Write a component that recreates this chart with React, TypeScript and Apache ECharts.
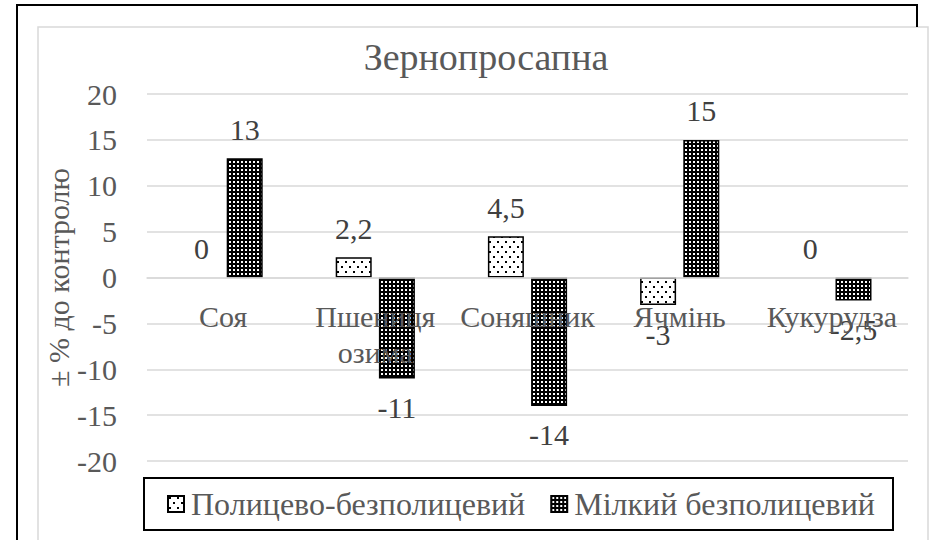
import React, { useEffect, useRef } from 'react';
import * as echarts from 'echarts';

const title = 'Зернопросапна';
const yAxisName = '± % до контролю';
const categories = ['Соя', 'Пшениця\nозима', 'Соняшник', 'Ячмінь', 'Кукурудза'];
const seriesNames = ['Полицево-безполицевий', 'Мілкий безполицевий'];
const ploughValues = [0, 2.2, 4.5, -3, 0];
const shallowValues = [13, -11, -14, 15, -2.5];
const yMin = -20;
const yMax = 20;
const yInterval = 5;

const FONT = "'Liberation Serif', 'Times New Roman', serif";
const TEXT = '#595959';
const GRID = '#d9d9d9';

const GRID_TOP = 94;
const GRID_BOTTOM_PX = 461;

function makePattern(w: number, h: number, bg: string, fg: string, rects: number[][]) {
  const c = document.createElement('canvas');
  c.width = w;
  c.height = h;
  const ctx = c.getContext('2d')!;
  ctx.fillStyle = bg;
  ctx.fillRect(0, 0, w, h);
  ctx.fillStyle = fg;
  rects.forEach(([x, y, rw, rh]) => ctx.fillRect(x, y, rw, rh));
  return { image: c, repeat: 'repeat' } as any;
}

function toItems(vals: number[]) {
  return vals.map((v) => ({
    value: v,
    label: { position: v < 0 ? 'bottom' : 'top' },
    ...(v === 0 ? { itemStyle: { borderWidth: 0 } } : {}),
  }));
}

export default function App() {
  const ref = useRef<HTMLDivElement>(null);
  useEffect(() => {
    document.body.style.margin = '0';
    const chart = echarts.init(ref.current!, undefined, { renderer: 'svg' });
    const lightPattern = makePattern(8, 10, '#ffffff', '#000000', [
      [1, 1, 2, 2],
      [5, 6, 2, 2],
    ]);
    const darkPattern = makePattern(4, 4, '#000000', '#ffffff', [[1, 1, 2, 2]]);
    const labelCfg = {
      show: true,
      distance: 14,
      color: '#404040',
      fontFamily: FONT,
      fontSize: 30,
      formatter: (p: any) => String(p.value).replace('.', ','),
    };
    // pixel offset that moves the category axis from the grid bottom up to the zero line
    const zeroFrac = (yMax - 0) / (yMax - yMin);
    const zeroY = GRID_TOP + (GRID_BOTTOM_PX - GRID_TOP) * zeroFrac;
    const xOffset = -(GRID_BOTTOM_PX - zeroY);
    chart.setOption({
      animation: false,
      backgroundColor: '#ffffff',
      title: {
        text: title,
        left: 481,
        top: 33,
        textAlign: 'center',
        textStyle: { color: TEXT, fontFamily: FONT, fontSize: 38, fontWeight: 'normal' },
      },
      graphic: [
        {
          type: 'polyline',
          shape: { points: [[17, 540], [17, 5], [917, 5], [917, 27]] },
          style: { stroke: '#000', lineWidth: 2, fill: 'none' },
          silent: true,
        },
        {
          type: 'rect',
          shape: { x: 38, y: 27, width: 890, height: 530 },
          style: { stroke: GRID, lineWidth: 1.5, fill: 'none' },
          silent: true,
          z: -1,
        },
        {
          type: 'rect',
          shape: { x: 144, y: 478, width: 749, height: 52 },
          style: { stroke: '#000', lineWidth: 2, fill: 'none' },
          silent: true,
        },
      ],
      legend: {
        left: 167,
        top: 488,
        padding: 0,
        itemGap: 25,
        itemWidth: 16,
        itemHeight: 16,
        icon: 'rect',
        textStyle: { color: TEXT, fontFamily: FONT, fontSize: 32, lineHeight: 30, padding: [0, 0, 0, 2] },
        data: seriesNames,
      },
      grid: {
        left: 147,
        right: 22,
        top: GRID_TOP,
        bottom: 540 - GRID_BOTTOM_PX,
        containLabel: false,
        outerBoundsMode: 'none',
      },
      xAxis: {
        type: 'category',
        data: categories,
        offset: xOffset,
        z: 5,
        axisLine: { onZero: false, lineStyle: { color: GRID, width: 1.5 } },
        axisTick: { show: false },
        axisLabel: {
          color: TEXT,
          fontFamily: FONT,
          fontSize: 30,
          lineHeight: 36,
          margin: 21,
          interval: 0,
        },
      },
      yAxis: {
        type: 'value',
        min: yMin,
        max: yMax,
        interval: yInterval,
        name: yAxisName,
        nameLocation: 'middle',
        nameRotate: 90,
        nameGap: 74,
        nameMoveOverlap: false,
        nameTextStyle: { color: TEXT, fontFamily: FONT, fontSize: 30 },
        axisLine: { show: false },
        axisTick: { show: false },
        splitLine: { lineStyle: { color: GRID, width: 1.5 } },
        axisLabel: { color: TEXT, fontFamily: FONT, fontSize: 30, margin: 30 },
      },
      series: [
        {
          name: seriesNames[0],
          type: 'bar',
          data: toItems(ploughValues),
          barWidth: 36,
          barGap: '20%',
          itemStyle: { color: lightPattern, borderColor: '#000', borderWidth: 1.5 },
          label: labelCfg,
        },
        {
          name: seriesNames[1],
          type: 'bar',
          data: toItems(shallowValues),
          barWidth: 36,
          itemStyle: { color: darkPattern, borderColor: '#000', borderWidth: 1.5 },
          label: labelCfg,
        },
      ],
    });
    return () => chart.dispose();
  }, []);
  return <div ref={ref} style={{ width: 930, height: 540 }} />;
}
